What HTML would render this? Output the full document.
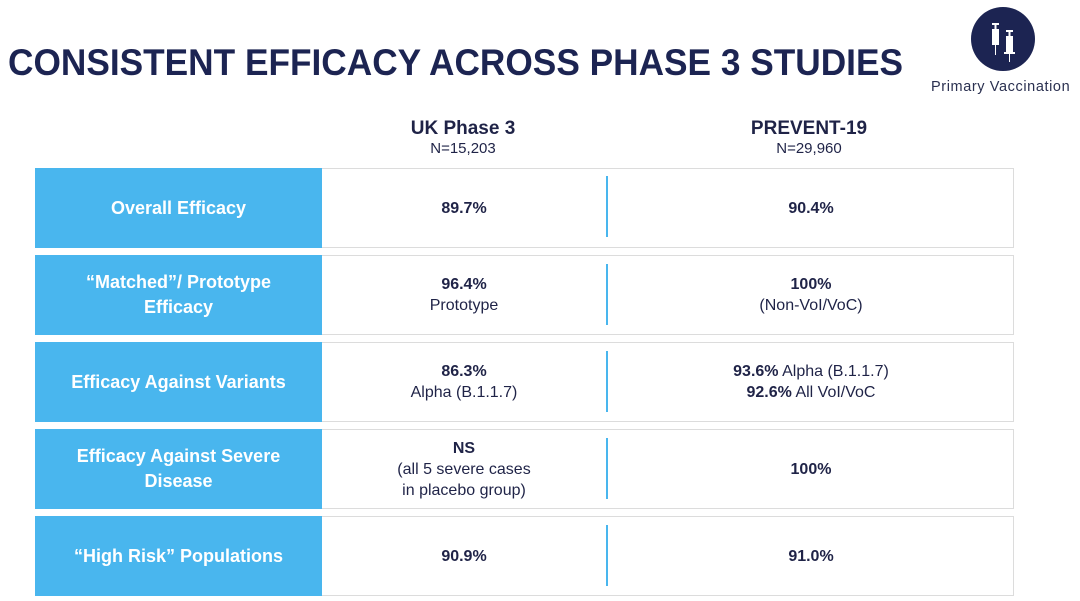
<!DOCTYPE html>
<html><head><meta charset="utf-8"><style>
body{margin:0;width:1080px;height:601px;background:#fff;position:relative;overflow:hidden;font-family:"Liberation Sans",sans-serif;color:#1f2347}
.abs{position:absolute}
.row{position:absolute;left:35px;width:979px;height:80px;border:1px solid #dcdcdc;box-sizing:border-box}
.lab{position:absolute;left:35px;width:287px;height:80px;background:#49b6ee;color:#fff;font-weight:bold;font-size:18px;display:flex;align-items:center;justify-content:center;text-align:center;line-height:25px}
.cell{position:absolute;height:80px;display:flex;flex-direction:column;align-items:center;justify-content:center;text-align:center;font-size:16px;line-height:21px}
.sep{position:absolute;left:606px;width:2px;height:61px;background:#49b6ee}
b{font-weight:bold}
.hd{position:absolute;text-align:center;width:300px}
</style></head><body>
<svg class="abs" style="left:0;top:30px" width="920" height="60"><text x="8" y="45" font-family="Liberation Sans" font-weight="bold" font-size="37" fill="#1c2452" textLength="895" lengthAdjust="spacingAndGlyphs">CONSISTENT EFFICACY ACROSS PHASE 3 STUDIES</text></svg>
<svg class="abs" style="left:970px;top:6px" width="66" height="66">
<circle cx="33" cy="33" r="32" fill="#1c2452"/>
<g fill="#fff"><rect x="22" y="17" width="7" height="2"/><rect x="24.5" y="19" width="2" height="4"/><rect x="22" y="23" width="7" height="16"/><rect x="25" y="39" width="1" height="10"/>
<rect x="36" y="24" width="7" height="2"/><rect x="38.5" y="26" width="2" height="4"/><rect x="36" y="30" width="7" height="16"/><rect x="34" y="46" width="11" height="2"/><rect x="39" y="48" width="1" height="8"/></g></svg>
<div class="abs" style="left:931px;top:79px;font-size:14.5px;letter-spacing:0.6px;color:#2a3050">Primary Vaccination</div>
<div class="hd" style="left:313px;top:118px"><div style="font-weight:bold;font-size:19px">UK Phase 3</div><div style="font-size:15px">N=15,203</div></div>
<div class="hd" style="left:659px;top:118px"><div style="font-weight:bold;font-size:19px">PREVENT-19</div><div style="font-size:15px">N=29,960</div></div>

<div class="row" style="top:168px"></div>
<div class="lab" style="top:168px">Overall Efficacy</div>
<div class="cell" style="left:322px;width:284px;top:168px"><b>89.7%</b></div>
<div class="sep" style="top:176px"></div>
<div class="cell" style="left:608px;width:406px;top:168px"><b>90.4%</b></div>

<div class="row" style="top:255px"></div>
<div class="lab" style="top:255px">“Matched”/ Prototype<br>Efficacy</div>
<div class="cell" style="left:322px;width:284px;top:255px"><b>96.4%</b><span>Prototype</span></div>
<div class="sep" style="top:264px"></div>
<div class="cell" style="left:608px;width:406px;top:255px"><b>100%</b><span>(Non-VoI/VoC)</span></div>

<div class="row" style="top:342px"></div>
<div class="lab" style="top:342px">Efficacy Against Variants</div>
<div class="cell" style="left:322px;width:284px;top:342px"><b>86.3%</b><span>Alpha (B.1.1.7)</span></div>
<div class="sep" style="top:351px"></div>
<div class="cell" style="left:608px;width:406px;top:342px"><span><b>93.6%</b> Alpha (B.1.1.7)</span><span><b>92.6%</b> All VoI/VoC</span></div>

<div class="row" style="top:429px"></div>
<div class="lab" style="top:429px">Efficacy Against Severe<br>Disease</div>
<div class="cell" style="left:322px;width:284px;top:429px"><b>NS</b><span>(all 5 severe cases</span><span>in placebo group)</span></div>
<div class="sep" style="top:438px"></div>
<div class="cell" style="left:608px;width:406px;top:429px"><b>100%</b></div>

<div class="row" style="top:516px"></div>
<div class="lab" style="top:516px">“High Risk” Populations</div>
<div class="cell" style="left:322px;width:284px;top:516px"><b>90.9%</b></div>
<div class="sep" style="top:525px"></div>
<div class="cell" style="left:608px;width:406px;top:516px"><b>91.0%</b></div>
</body></html>
